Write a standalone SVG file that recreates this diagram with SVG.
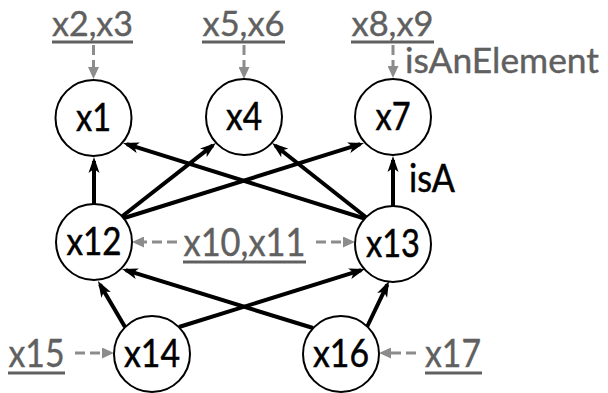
<svg xmlns="http://www.w3.org/2000/svg" width="608" height="393" viewBox="0 0 608 393">
  <style>
    .node circle { fill: #ffffff; stroke: #000000; stroke-width: 2; }
    .node text { font-family: Lato, "Open Sans", "Liberation Sans", sans-serif; font-size: 38px; fill: #000000; stroke: #000000; stroke-width: 0.5; text-anchor: middle; }
    .lbl { font-family: Lato, "Open Sans", "Liberation Sans", sans-serif; font-size: 38px; fill: #606060; stroke: #606060; stroke-width: 0.4; }
    .top { font-size: 35px; }
    .side { font-size: 34px; }
    .ul { stroke: #606060; stroke-width: 3; }
    .rel { stroke: #000000; stroke-width: 4; fill: none; marker-end: url(#head); }
    .inst { stroke: #8c8c8c; stroke-width: 3; fill: none; stroke-dasharray: 10 5; marker-end: url(#ghead); }
  </style>
  <defs>
    <marker id="head" markerUnits="userSpaceOnUse" viewBox="0 0 16 12" refX="12" refY="6" markerWidth="16" markerHeight="12" orient="auto">
      <path d="M0,0.5 L16,6 L0,11.5 L4,6 Z" fill="#000000"/>
    </marker>
    <marker id="ghead" markerUnits="userSpaceOnUse" viewBox="0 0 12 11" refX="8" refY="5.5" markerWidth="12" markerHeight="11" orient="auto">
      <path d="M0,0 L12,5.5 L0,11 Z" fill="#8c8c8c"/>
    </marker>
  </defs>

  <!-- relations between concepts -->
  <g id="connectors">
    <line class="rel" x1="94" y1="204" x2="94" y2="161"/>
    <line class="rel" x1="393" y1="206" x2="393" y2="160"/>
    <line class="rel" x1="120" y1="218" x2="212.8" y2="145.4"/>
    <line class="rel" x1="121" y1="219" x2="360.2" y2="144.2"/>
    <line class="rel" x1="366" y1="219" x2="126.8" y2="144.2"/>
    <line class="rel" x1="367" y1="218" x2="275.2" y2="145.5"/>
    <line class="rel" x1="125" y1="327" x2="100" y2="284.5"/>
    <line class="rel" x1="179" y1="327" x2="361.2" y2="270.2"/>
    <line class="rel" x1="313" y1="328" x2="125.8" y2="270.2"/>
    <line class="rel" x1="367" y1="327" x2="387.3" y2="284.6"/>

    <line class="inst" x1="93.5" y1="45" x2="93.5" y2="75"/>
    <line class="inst" x1="244" y1="45" x2="244" y2="75"/>
    <line class="inst" x1="393" y1="45" x2="393" y2="74"/>
    <line class="inst" x1="177" y1="242" x2="136" y2="242"/>
    <line class="inst" x1="316" y1="242" x2="351" y2="242"/>
    <line class="inst" x1="75" y1="353" x2="110" y2="353"/>
    <line class="inst" x1="416" y1="353" x2="383" y2="353"/>
  </g>

  <!-- instance labels -->
  <g id="instances">
    <text class="lbl top" x="92.5" y="36" text-anchor="middle" textLength="81" lengthAdjust="spacingAndGlyphs">x2,x3</text>
    <line class="ul" x1="52" y1="42" x2="133" y2="42"/>
    <text class="lbl top" x="243.5" y="36" text-anchor="middle" textLength="82" lengthAdjust="spacingAndGlyphs">x5,x6</text>
    <line class="ul" x1="202" y1="42" x2="285" y2="42"/>
    <text class="lbl top" x="392.5" y="36" text-anchor="middle" textLength="82" lengthAdjust="spacingAndGlyphs">x8,x9</text>
    <line class="ul" x1="351" y1="42" x2="434" y2="42"/>
    <text class="lbl" x="244.5" y="256" text-anchor="middle" textLength="122" lengthAdjust="spacingAndGlyphs">x10,x11</text>
    <line class="ul" x1="183" y1="262" x2="306" y2="262"/>
    <text class="lbl" x="36.5" y="367" text-anchor="middle" textLength="56" lengthAdjust="spacingAndGlyphs">x15</text>
    <line class="ul" x1="8" y1="373" x2="65" y2="373"/>
    <text class="lbl" x="453" y="367" text-anchor="middle" textLength="56" lengthAdjust="spacingAndGlyphs">x17</text>
    <line class="ul" x1="425" y1="373" x2="482" y2="373"/>
    <text class="lbl side" x="405" y="73" textLength="194" lengthAdjust="spacingAndGlyphs">isAnElement</text>
  </g>

  <text id="isA" x="409" y="192" font-family="Lato, 'Open Sans', 'Liberation Sans', sans-serif" font-size="38" fill="#000000" stroke="#000000" stroke-width="0.5" textLength="46" lengthAdjust="spacingAndGlyphs">isA</text>

  <g id="x1" class="node"><circle cx="93.5" cy="118" r="38"/><text x="93.5" y="131" textLength="35" lengthAdjust="spacingAndGlyphs">x1</text></g>
  <g id="x4" class="node"><circle cx="244" cy="117" r="38"/><text x="244" y="130" textLength="36" lengthAdjust="spacingAndGlyphs">x4</text></g>
  <g id="x7" class="node"><circle cx="393" cy="117" r="38"/><text x="393" y="130" textLength="35" lengthAdjust="spacingAndGlyphs">x7</text></g>
  <g id="x12" class="node"><circle cx="94" cy="242" r="38"/><text x="94" y="255" textLength="55" lengthAdjust="spacingAndGlyphs">x12</text></g>
  <g id="x13" class="node"><circle cx="393" cy="244" r="38"/><text x="393" y="257" textLength="54" lengthAdjust="spacingAndGlyphs">x13</text></g>
  <g id="x14" class="node"><circle cx="152" cy="354" r="38"/><text x="152" y="367" textLength="56" lengthAdjust="spacingAndGlyphs">x14</text></g>
  <g id="x16" class="node"><circle cx="341" cy="354" r="38"/><text x="341" y="367" textLength="56" lengthAdjust="spacingAndGlyphs">x16</text></g>
</svg>
